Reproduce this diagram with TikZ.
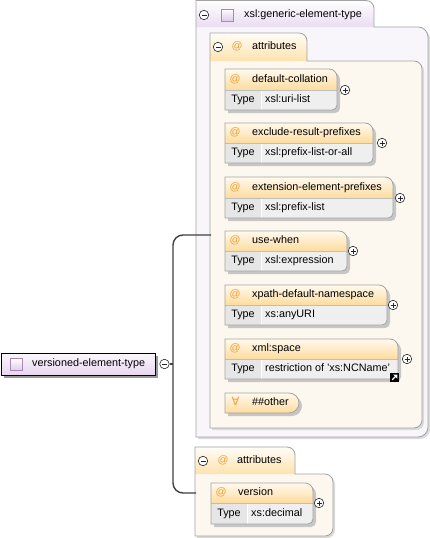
\documentclass[tikz,border=0pt]{standalone}
\usepackage{fontspec}
\setmainfont{Liberation Sans}
\newfontfamily\symfnt{DejaVu Sans}
\definecolor{boxgray}{HTML}{A3A3A3}
\definecolor{shadowc}{HTML}{C6C6C6}
\definecolor{shadowl}{HTML}{DADADA}
\definecolor{hdtop}{HTML}{FFF9EF}
\definecolor{hdbot}{HTML}{FDDC9E}
\definecolor{tabtop}{HTML}{FFFDF8}
\definecolor{tabbot}{HTML}{FDE2AE}
\definecolor{typebg}{HTML}{EFEFEF}
\definecolor{typecell}{HTML}{E6E6E6}
\definecolor{atc}{HTML}{F0A030}
\definecolor{lavtab}{HTML}{EADCF1}
\definecolor{lavbox}{HTML}{F9F6FB}
\definecolor{cream}{HTML}{FDF8EF}
\definecolor{elemtop}{HTML}{FBF7FC}
\definecolor{elembot}{HTML}{E8D6EF}
\definecolor{iconbd}{HTML}{A888B8}
\definecolor{iconbot}{HTML}{E0CAE8}
\definecolor{connc}{HTML}{404040}
\tikzset{
  bord/.style={draw=boxgray, line width=0.8pt},
  conn/.style={draw=connc, line width=1.4pt},
  circmark/.style={circle, draw=black!85, fill=white, line width=0.6pt,
    minimum size=9.5pt, inner sep=0pt, text height=0pt, text depth=0pt},
  pluscirc/.style={circmark, path picture={
    \draw[line width=0.7pt,black!85] ([xshift=-2.5pt]path picture bounding box.center) -- ([xshift=2.5pt]path picture bounding box.center);
    \draw[line width=0.7pt,black!85] ([yshift=-2.5pt]path picture bounding box.center) -- ([yshift=2.5pt]path picture bounding box.center);}},
  minuscirc/.style={circmark, path picture={
    \draw[line width=0.7pt,black!85] ([xshift=-2.5pt]path picture bounding box.center) -- ([xshift=2.5pt]path picture bounding box.center);}},
  iconsq/.style={rectangle, draw=iconbd, line width=0.7pt, top color=white, bottom color=iconbot,
    minimum size=12pt, inner sep=0pt, text height=0pt, text depth=0pt},
  attxt/.style={text=atc},
}
% #1 id, #2 name, #3 x1, #4 y1, #5 x2, #6 ymid, #7 y2, #8 type value, #9 plus x
\newcommand\attrbox[9]{%
  \fill[shadowc] ({#3+3},{-#4-3}) -- ({#5+3-8},{-#4-3}) arc[start angle=90,end angle=0,radius=8pt]
     -- ({#5+3},{-#7-3+5}) arc[start angle=0,end angle=-90,radius=5pt] -- ({#3+3},{-#7-3}) -- cycle;
  \path[top color=hdtop,bottom color=hdbot] (#3,-#6) -- (#3,-#4) -- ({#5-8},-#4)
     arc[start angle=90,end angle=0,radius=8pt] -- (#5,-#6) -- cycle;
  \fill[typebg] (#3,-#6) -- (#5,-#6) -- ({#5},{-#7+5}) arc[start angle=0,end angle=-90,radius=5pt] -- (#3,-#7) -- cycle;
  \fill[typecell] (#3,-#6) rectangle ({#3+36},-#7);
  \draw[white, line width=0.9pt] ({#3+36},{-#6-0.5}) -- ({#3+36},{-#7+0.5});
  \draw[boxgray!70, line width=0.6pt] (#3,-#6) -- (#5,-#6);
  \draw[bord] (#3,-#4) -- ({#5-8},-#4) arc[start angle=90,end angle=0,radius=8pt]
     -- ({#5},{-#7+5}) arc[start angle=0,end angle=-90,radius=5pt] -- (#3,-#7) -- cycle;
  \node[attxt] (#1at) at ({#3+10},{-(#4+#6)/2}) {@};
  \node[anchor=west] (#1) at ({#3+27},{-(#4+#6)/2}) {#2};
  \node (#1type) at ({#3+18},{-(#6+#7)/2}) {Type};
  \node[anchor=west] (#1val) at ({#3+40},{-(#6+#7)/2}) {#8};
  \node[pluscirc] (#1plus) at (#9,{-#6}) {};
}
\begin{document}
\begin{tikzpicture}[x=1pt,y=1pt,
  every node/.style={font=\fontsize{10.8}{13}\selectfont, inner sep=0pt, text height=7.8pt, text depth=2.2pt}]
\useasboundingbox (0,0) rectangle (430,-538);
\fill[white] (0,0) rectangle (430,-538);

% ---------- outer container xsl:generic-element-type ----------
\fill[shadowl] (198,-29) -- (420,-29) arc[start angle=90,end angle=0,radius=10pt]
   -- (430,-429) arc[start angle=0,end angle=-90,radius=10pt] -- (198,-439) -- cycle;
\fill[lavbox] (196,-27) -- (418,-27) arc[start angle=90,end angle=0,radius=10pt]
   -- (428,-427) arc[start angle=0,end angle=-90,radius=10pt] -- (196,-437) -- cycle;
\path[top color=white,bottom color=lavtab] (196,-27) -- (196,-0.5) -- (366,-0.5)
   arc[start angle=90,end angle=0,radius=8pt] -- (374,-27) -- cycle;
\draw[bord] (196,-437) -- (196,-0.5) -- (366,-0.5) arc[start angle=90,end angle=0,radius=8pt]
   -- (374,-27) -- (418,-27) arc[start angle=90,end angle=0,radius=10pt]
   -- (428,-427) arc[start angle=0,end angle=-90,radius=10pt] -- cycle;
\node[minuscirc] (gmin) at (204,-15) {};
\node[iconsq] (gicon) at (227,-15) {};
\node[anchor=west] (gname) at (244,-15) {xsl:generic-element-type};

% ---------- attributes container (top) ----------
\fill[shadowl] (212,-63) -- (416,-63) arc[start angle=90,end angle=0,radius=8pt]
   -- (424,-422) arc[start angle=0,end angle=-90,radius=8pt] -- (212,-430) -- cycle;
\fill[cream] (210,-61) -- (414,-61) arc[start angle=90,end angle=0,radius=8pt]
   -- (422,-420) arc[start angle=0,end angle=-90,radius=8pt] -- (210,-428) -- cycle;
\path[top color=tabtop,bottom color=tabbot] (210,-61) -- (210,-33) -- (299,-33)
   arc[start angle=90,end angle=0,radius=8pt] -- (307,-61) -- cycle;
\draw[bord] (210,-428) -- (210,-33) -- (299,-33) arc[start angle=90,end angle=0,radius=8pt]
   -- (307,-61) -- (414,-61) arc[start angle=90,end angle=0,radius=8pt]
   -- (422,-420) arc[start angle=0,end angle=-90,radius=8pt] -- cycle;
\node[minuscirc] (amin) at (218,-47) {};
\node[attxt] (aat) at (237,-47) {@};
\node[anchor=west] (aname) at (252,-47) {attributes};

\attrbox{dc}{default-collation}{225}{69}{337}{90}{110}{xsl:uri-list}{345}
\attrbox{erp}{exclude-result-prefixes}{225}{123}{373}{143}{163}{xsl:prefix-list-or-all}{382}
\attrbox{eep}{extension-element-prefixes}{225}{177}{393}{198}{218}{xsl:prefix-list}{400}
\attrbox{uw}{use-when}{225}{231}{347}{251}{271}{xsl:expression}{353}
\attrbox{xdn}{xpath-default-namespace}{225}{285}{387}{305}{325}{xs:anyURI}{393}
\attrbox{xs}{xml:space}{225}{339}{398}{359}{379}{restriction of 'xs:NCName'}{407}

% link icon
\fill[black] (390,-373) rectangle (399,-382);
\draw[white, line width=1.1pt] (392.2,-379.8) -- (396.2,-375.8);
\fill[white] (397.4,-374.6) -- (393.2,-374.6) -- (397.4,-378.8) -- cycle;
\coordinate (xslink) at (394.5,-377.5);

% ##other
\fill[shadowc] (228,-396) -- (292,-396) arc[start angle=90,end angle=-90,radius=10pt] -- (228,-416) -- cycle;
\path[top color=hdtop,bottom color=hdbot] (225,-393) -- (289,-393) arc[start angle=90,end angle=-90,radius=10pt] -- (225,-413) -- cycle;
\draw[bord] (225,-393) -- (289,-393) arc[start angle=90,end angle=-90,radius=10pt] -- (225,-413) -- cycle;
\node[attxt, font=\symfnt\fontsize{11.5}{13}\selectfont] (oany) at (235.5,-403) {∀};
\node[anchor=west] (oname) at (252,-403) {\#\#other};

% ---------- attributes container (bottom) ----------
\fill[shadowl] (197,-476) -- (327,-476) arc[start angle=90,end angle=0,radius=8pt]
   -- (335,-530) arc[start angle=0,end angle=-90,radius=8pt] -- (197,-538) -- cycle;
\fill[cream] (195,-474) -- (325,-474) arc[start angle=90,end angle=0,radius=8pt]
   -- (333,-528) arc[start angle=0,end angle=-90,radius=8pt] -- (195,-536) -- cycle;
\path[top color=tabtop,bottom color=tabbot] (195,-474) -- (195,-447) -- (287,-447)
   arc[start angle=90,end angle=0,radius=8pt] -- (295,-474) -- cycle;
\draw[bord] (195,-536) -- (195,-447) -- (287,-447) arc[start angle=90,end angle=0,radius=8pt]
   -- (295,-474) -- (325,-474) arc[start angle=90,end angle=0,radius=8pt]
   -- (333,-528) arc[start angle=0,end angle=-90,radius=8pt] -- cycle;
\node[minuscirc] (bmin) at (203,-461) {};
\node[attxt] (bat) at (223,-461) {@};
\node[anchor=west] (bname) at (237,-461) {attributes};

\attrbox{ver}{version}{211}{483}{313}{503}{524}{xs:decimal}{319}

% ---------- element versioned-element-type ----------
\fill[black!40] (4,-356) rectangle (158,-378);
\path[top color=elemtop,bottom color=elembot,draw=black,line width=0.9pt] (1,-353) rectangle (155,-375);
\node[iconsq] (vicon) at (16,-364.5) {};
\node[anchor=west] (vname) at (32,-364) {versioned-element-type};
\node[minuscirc] (vmin) at (164.5,-364) {};

% ---------- connectors ----------
\coordinate (busA) at (211,-235);
\coordinate (busB) at (196,-493);
\coordinate (busM) at (173,-364);
\draw[conn, rounded corners=10pt] (busA) -- (173,-235) -- (173,-493) -- (busB);
\draw[conn] (vmin.east) -- (busM);
\end{tikzpicture}
\end{document}
